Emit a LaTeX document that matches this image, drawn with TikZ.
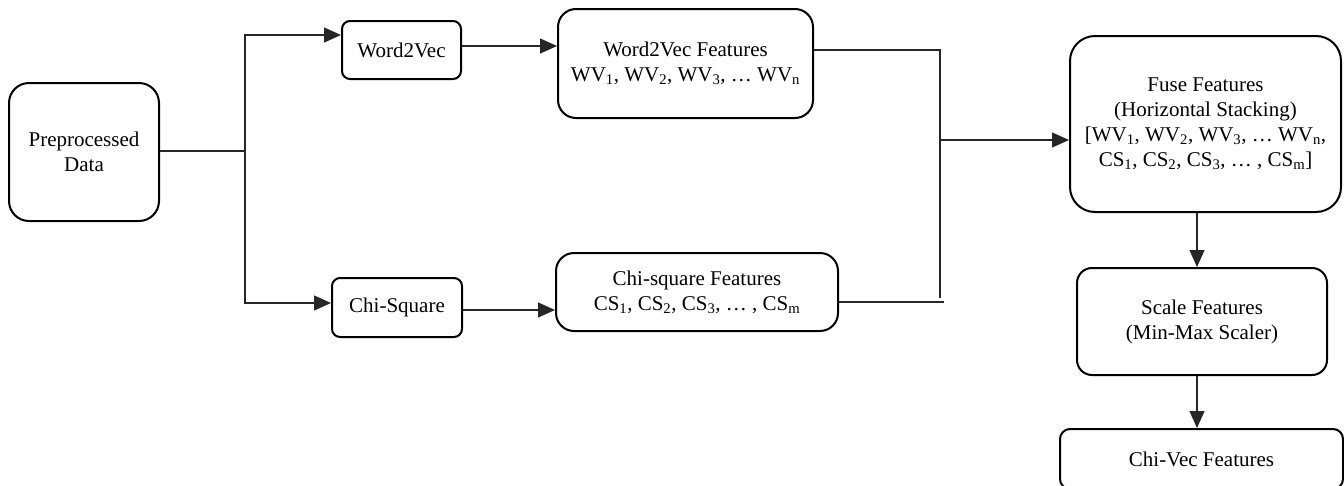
\documentclass[tikz,border=0pt]{standalone}
\usepackage{fontspec}
\setmainfont{Liberation Serif}
\usetikzlibrary{arrows.meta}

\begin{document}
\begin{tikzpicture}[x=1pt, y=-1pt,
    caja/.style={draw, line width=2pt, align=center, inner sep=0pt,
      font=\fontsize{21}{25}\selectfont},
    flecha/.style={line width=1.2pt, draw=black!85, -{Triangle[length=17pt,width=15pt]}},
    linea/.style={line width=1.2pt, draw=black!85}]
    \useasboundingbox (0,0) rectangle (1344,485);

    % Cajas de la izquierda
    \node[caja, rounded corners=20pt, minimum width=150pt, minimum height=138pt]
      (pre) at (84,152) {Preprocessed\\Data};
    \node[caja, rounded corners=8pt, minimum width=119pt, minimum height=58pt]
      (w2v) at (401.5,50) {Word2Vec};
    \node[caja, rounded corners=8pt, minimum width=130pt, minimum height=59pt]
      (chi) at (397,307.5) {Chi-Square};

    % Cajas de caracteristicas
    \node[caja, rounded corners=18pt, minimum width=255pt, minimum height=109pt]
      (w2vf) at (685.5,63.5) {Word2Vec Features\\
      WV\textsubscript{1}, WV\textsubscript{2}, WV\textsubscript{3}, … WV\textsubscript{n}};
    \node[caja, rounded corners=18pt, minimum width=282pt, minimum height=78pt]
      (chif) at (697,292) {Chi-square Features\\
      CS\textsubscript{1}, CS\textsubscript{2}, CS\textsubscript{3}, … , CS\textsubscript{m}};

    % Cajas de la derecha
    \node[caja, rounded corners=25pt, minimum width=271pt, minimum height=176pt]
      (fuse) at (1205.5,124) {Fuse Features\\(Horizontal Stacking)\\
      {[}WV\textsubscript{1}, WV\textsubscript{2}, WV\textsubscript{3}, … WV\textsubscript{n},\\
      CS\textsubscript{1}, CS\textsubscript{2}, CS\textsubscript{3}, … , CS\textsubscript{m}]};
    \node[caja, rounded corners=15pt, minimum width=250pt, minimum height=107pt]
      (scale) at (1202,321.5) {Scale Features\\(Min-Max Scaler)};
    \node[caja, rounded corners=10pt, minimum width=283pt, minimum height=60pt]
      (chivec) at (1201.5,459) {Chi-Vec Features};

    % Division de los datos
    \coordinate (split) at (245,151);
    \draw[linea] (pre.east |- split) -- (split);
    \draw[flecha] (split) |- ([yshift=15pt]w2v.west);
    \draw[flecha] (split) |- ([yshift=4.5pt]chi.west);
    \draw[flecha] ([yshift=4pt]w2v.east) -- ([yshift=4pt]w2v.east -| w2vf.west);
    \draw[flecha] ([yshift=-2.5pt]chi.east) -- ([yshift=-2.5pt]chi.east -| chif.west);

    % Union de las caracteristicas
    \coordinate (merge) at (940,140);
    \draw[linea] ([yshift=13.5pt]w2vf.east) -| (merge) -- (940,298);
    \draw[linea] ([yshift=-10pt]chif.east) -- ++(105,0);
    \draw[flecha] (merge) -- (merge -| fuse.west);

    % Flechas verticales
    \draw[flecha] ([xshift=-8.5pt]fuse.south) -- ([xshift=-8.5pt]fuse.south |- scale.north);
    \draw[flecha] ([xshift=-5pt]scale.south) -- ([xshift=-5pt]scale.south |- chivec.north);

  \end{tikzpicture}
\end{document}
